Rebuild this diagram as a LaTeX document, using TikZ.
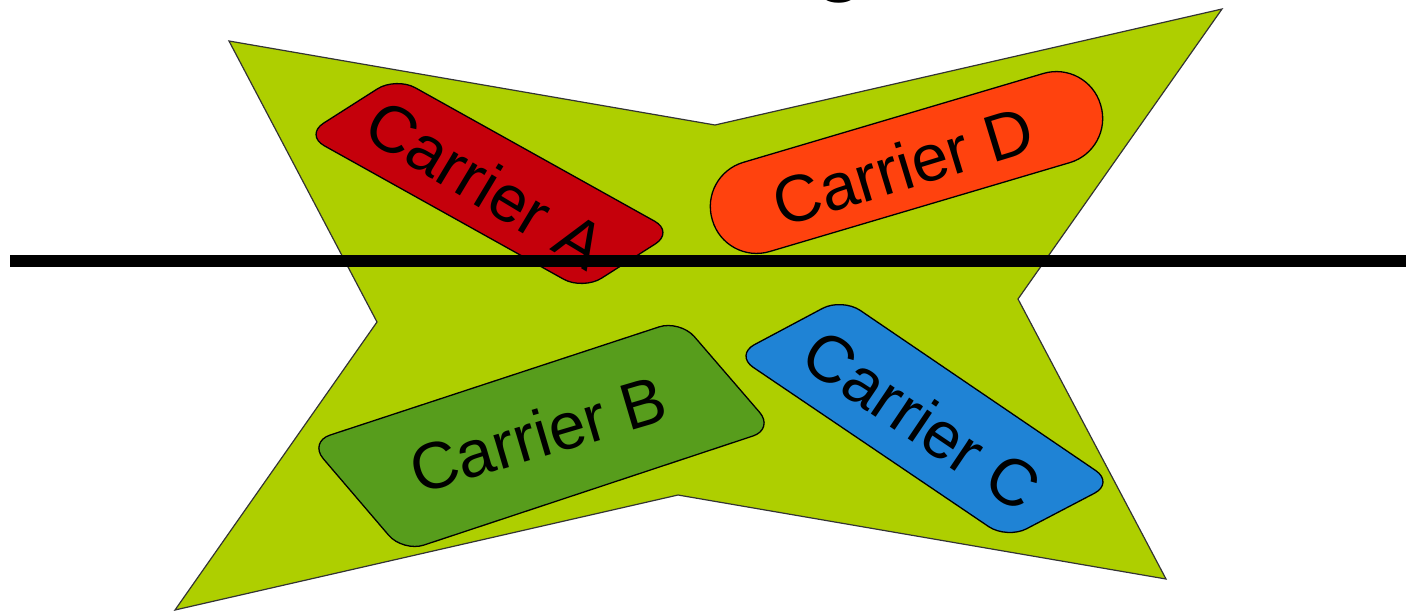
\documentclass[tikz,border=0pt]{standalone}
\usepackage{fontspec}
\setmainfont{Liberation Sans}
\definecolor{starfill}{HTML}{AECF00}
\definecolor{cara}{HTML}{C5000B}
\definecolor{carb}{HTML}{579D1C}
\definecolor{carc}{HTML}{1F83D5}
\definecolor{card}{HTML}{FF420E}
\tikzset{
  starshape/.style={fill=starfill, draw=black!80, line width=1.2pt, line join=miter},
  carbox/.style={draw=black, line width=1.3pt, rounded corners=22pt},
  cartext/.style={inner sep=0pt, font=\fontsize{66}{66}\selectfont, text=black},
  divider/.style={draw=black, line width=12pt},
}
\begin{document}
\begin{tikzpicture}[x=1pt,y=-1pt]
\clip (0,0) rectangle (1406,611);
\useasboundingbox (0,0) rectangle (1406,611);
% partial title glyph cut off at the top
\node[inner sep=0pt, anchor=base, font=\fontsize{95}{95}\selectfont] (title) at (840,-17) {g};
% star
\filldraw[starshape] (229,41) -- (715,125) -- (1222,9) -- (1018,299) -- (1166,579)
  -- (678,495) -- (175,610) -- (377,322) -- cycle;
% Carrier A
\filldraw[carbox, fill=cara] (396,77) -- (674,232) -- (583,290) -- (305,135) -- cycle;
\node[cartext, rotate=-31] (ta) at (486,184) {Carrier A};
% Carrier B
\filldraw[carbox, fill=carb] (309,442) -- (680,320) -- (774,429) -- (403,552) -- cycle;
\node[cartext, rotate=16.5] (tb) at (538,434) {Carrier B};
% Carrier C
\filldraw[carbox, fill=carc] (842,298) -- (1114,483) -- (1007,539) -- (735,355) -- cycle;
\node[cartext, rotate=-34] (tc) at (922,420) {Carrier C};
% Carrier D
\node[draw=black, line width=1.3pt, fill=card, minimum width=405pt, minimum height=93pt,
  rounded corners=46pt, rotate=16.5, inner sep=0pt] (d) at (906.5,162.5) {};
\node[cartext, rotate=17] (td) at (903,166) {Carrier D};
% horizontal line
\coordinate (lineL) at (10,261);
\coordinate (lineR) at (1420,261);
\draw[divider] (lineL) -- (lineR);
\end{tikzpicture}
\end{document}
